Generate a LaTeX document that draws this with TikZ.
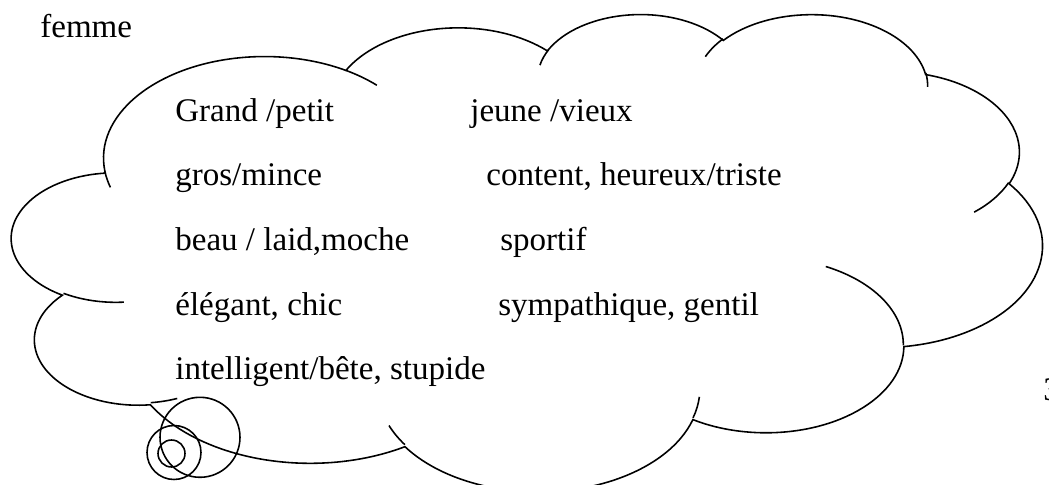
\documentclass[tikz,border=0pt]{standalone}
\usepackage{fontspec}
\setmainfont{Liberation Serif}
\tikzset{
  % arc given as in an office shape: radii, start angle, sweep
  ooxml arc/.code n args={4}{%
    \pgfmathsetmacro\arcA{atan2((#1)*sin(#3),(#2)*cos(#3))}%
    \pgfmathsetmacro\arcB{atan2((#1)*sin((#3)+(#4)),(#2)*cos((#3)+(#4)))}%
    \pgfmathsetmacro\arcB{\arcA+mod(\arcB-\arcA+720,360)}%
    \edef\arcset{\noexpand\tikzset{start angle=\arcA,end angle=\arcB,x radius=#1,y radius=#2}}%
    \arcset
  }
}
\begin{document}
\begin{tikzpicture}[x=0.02cm,y=-0.02cm,
    word/.style={anchor=base west,inner sep=0pt,font=\fontsize{18.8}{22}\selectfont},
    bubble/.style={draw,circle,inner sep=0pt,line width=0.9pt},
    cloud line/.style={line width=0.9pt}]
  \useasboundingbox (0,0) rectangle (1049,484);
  \clip (0,0) rectangle (1049,484);

  \node[word] (femme) at (40,37) {femme};

  % the cloud
  \begin{scope}[shift={(12,13)},x=0.0477cm,y=-0.0221cm]
    \draw[cloud line] (39.00,143.70)
      arc[ooxml arc={67.53}{91.90}{-190.48748}{123.78053}]
      arc[ooxml arc={53.33}{72.67}{-144.10238}{89.94523}]
      arc[ooxml arc={43.65}{59.45}{-145.80792}{99.72302}]
      arc[ooxml arc={48.57}{65.95}{-130.98607}{117.24173}]
      arc[ooxml arc={53.33}{72.73}{-78.70888}{109.02692}]
      arc[ooxml arc={67.75}{92.20}{-46.26725}{130.26900}]
      arc[ooxml arc={57.85}{78.67}{0.62502}{114.03333}]
      arc[ooxml arc={67.52}{92.15}{22.45160}{115.17255}]
      arc[ooxml arc={77.20}{105.43}{66.24263}{75.71102}]
      arc[ooxml arc={43.60}{59.18}{-274.94208}{146.73557}]
      arc[ooxml arc={43.45}{59.45}{-246.82850}{152.51885}]
      -- cycle;
    % inner ends of the arcs
    \draw[cloud line]
      (46.93,261.77) arc[ooxml arc={43.45}{59.45}{86.74200}{26.42950}]
      (69.28,348.99) arc[ooxml arc={43.60}{59.18}{73.61047}{11.44747}]
      (164.78,390.90) arc[ooxml arc={67.52}{92.15}{137.62415}{14.08110}]
      (288.27,347.51) arc[ooxml arc={67.52}{92.15}{6.45327}{15.99835}]
      (341.29,229.54) arc[ooxml arc={57.85}{78.67}{-70.29235}{70.91737}]
      (417.98,153.54) arc[ooxml arc={53.33}{72.73}{30.31803}{27.75150}]
      (383.24,54.26) arc[ooxml arc={48.57}{65.95}{-13.74433}{14.85890}]
      (290.78,39.52) arc[ooxml arc={48.57}{65.95}{-149.18145}{18.19537}]
      (221.41,47.20) arc[ooxml arc={43.65}{59.45}{-163.49427}{17.68635}]
      (140.00,51.92) arc[ooxml arc={67.53}{91.90}{-66.70695}{12.31935}]
      (41.27,157.89) arc[ooxml arc={67.53}{91.90}{157.65435}{11.85817}];
  \end{scope}

  % thought bubbles
  \node[bubble,minimum size=0.54cm] (bulle1) at (171.5,453.5) {};
  \node[bubble,minimum size=1.08cm] (bulle2) at (174,452.5) {};
  \node[bubble,minimum size=1.6cm] (bulle3) at (200,437.3) {};

  \node[word] (grand) at (175,121) {Grand /petit};
  \node[word] (jeune) at (470,121) {jeune /vieux};
  \node[word] (gros) at (175,185) {gros/mince};
  \node[word] (content) at (486,185) {content, heureux/triste};
  \node[word] (beau) at (175,250) {beau / laid,moche};
  \node[word] (sportif) at (500,250) {sportif};
  \node[word] (elegant) at (175,315) {élégant, chic};
  \node[word] (sympa) at (498,315) {sympathique, gentil};
  \node[word] (intel) at (175,379) {intelligent/bête, stupide};

  \node[word] (pagenum) at (1043,400) {3};
\end{tikzpicture}
\end{document}
